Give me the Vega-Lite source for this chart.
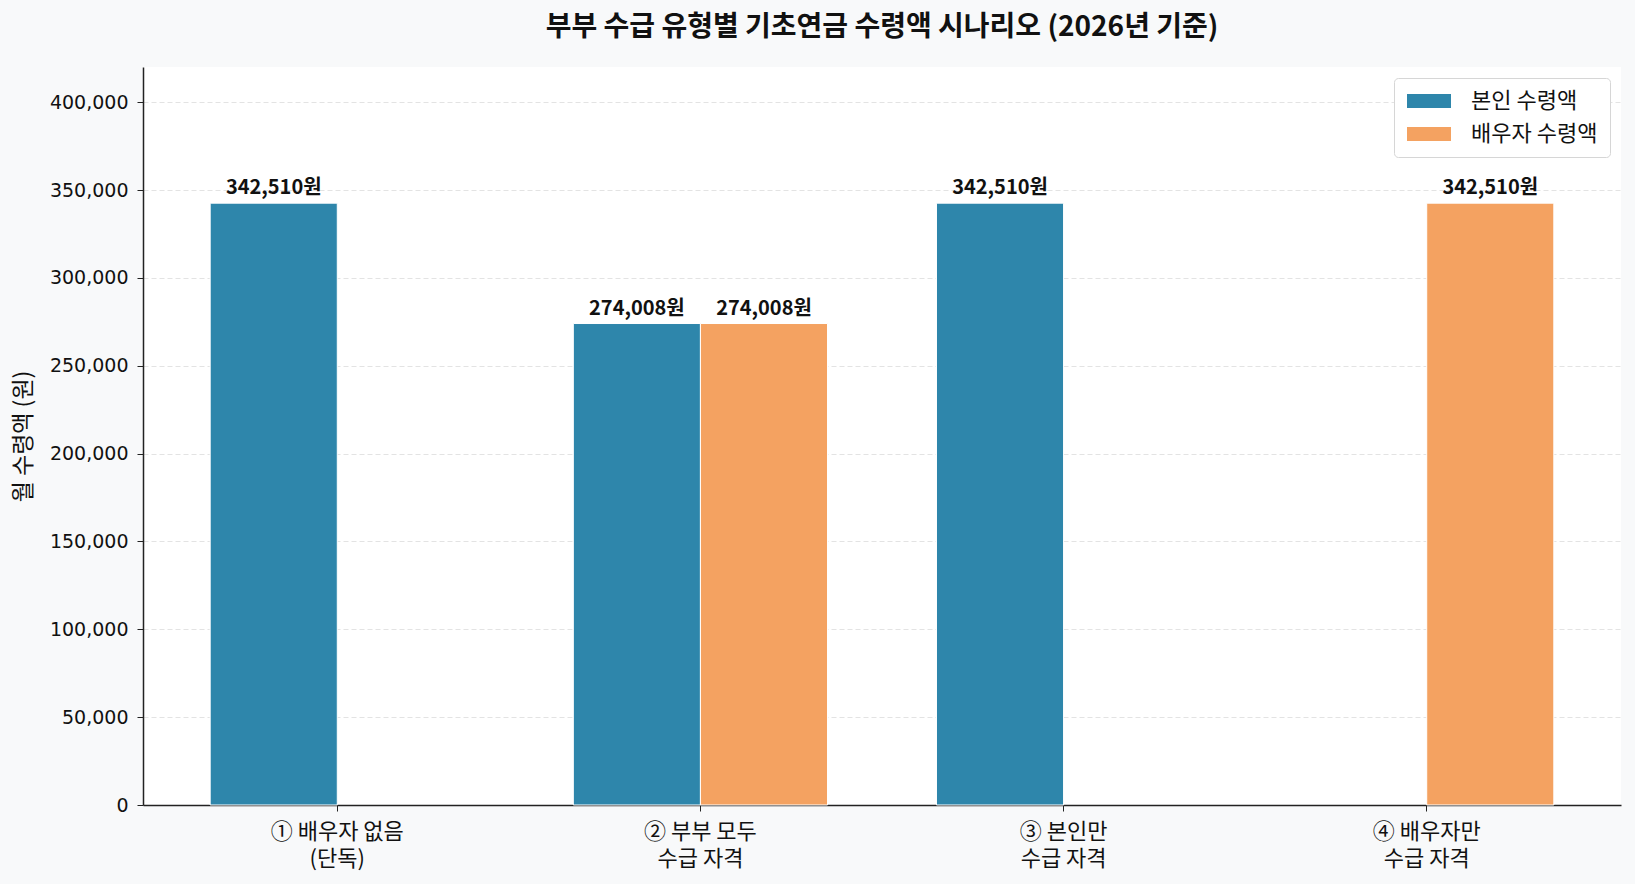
{
  "$schema": "https://vega.github.io/schema/vega-lite/v6.json",
  "width": 1478,
  "height": 738,
  "autosize": {"type": "none"},
  "padding": {"left": 143, "right": 14, "top": 67, "bottom": 79},
  "background": "#f8f9fa",
  "title": {
    "text": "부부 수급 유형별 기초연금 수령액 시나리오 (2026년 기준)",
    "font": "Noto Sans CJK KR",
    "fontSize": 28,
    "fontWeight": "bold",
    "color": "#111111",
    "anchor": "middle",
    "offset": 25
  },
  "data": {
    "values": [
      {"scenario": "① 배우자 없음\n(단독)", "series": "본인 수령액", "value": 342510},
      {"scenario": "② 부부 모두\n수급 자격", "series": "본인 수령액", "value": 274008},
      {"scenario": "② 부부 모두\n수급 자격", "series": "배우자 수령액", "value": 274008},
      {"scenario": "③ 본인만\n수급 자격", "series": "본인 수령액", "value": 342510},
      {"scenario": "④ 배우자만\n수급 자격", "series": "배우자 수령액", "value": 342510}
    ]
  },
  "transform": [
    {"calculate": "format(datum.value, ',.0f') + '원'", "as": "label"}
  ],
  "encoding": {
    "x": {
      "field": "scenario",
      "type": "nominal",
      "sort": null,
      "scale": {"paddingInner": 0.3, "paddingOuter": 0.185},
      "axis": {
        "title": null,
        "labelAngle": 0,
        "labelExpr": "split(datum.label, '\\n')",
        "labelFont": "Noto Sans CJK KR",
        "labelFontSize": 22,
        "labelLineHeight": 27,
        "labelColor": "#111111",
        "labelPadding": 10,
        "tickSize": 6,
        "tickColor": "#222222",
        "domainColor": "#222222",
        "domainWidth": 1.5,
        "grid": false
      }
    },
    "xOffset": {"field": "series", "type": "nominal", "sort": ["본인 수령액", "배우자 수령액"]},
    "y": {
      "field": "value",
      "type": "quantitative",
      "scale": {"domain": [0, 420000], "nice": false},
      "axis": {
        "title": "월 수령액 (원)",
        "titleFont": "Noto Sans CJK KR",
        "titleFontSize": 23,
        "titleFontWeight": "normal",
        "titleColor": "#111111",
        "titleX": -120,
        "titleY": 369,
        "titleAngle": -90,
        "titleAlign": "center",
        "titleBaseline": "middle",
        "values": [0, 50000, 100000, 150000, 200000, 250000, 300000, 350000, 400000],
        "format": ",.0f",
        "labelFont": "DejaVu Sans",
        "labelFontSize": 19,
        "labelColor": "#111111",
        "labelPadding": 9,
        "tickSize": 6,
        "tickColor": "#222222",
        "domainColor": "#222222",
        "domainWidth": 1.5,
        "grid": true,
        "gridColor": "#e3e3e3",
        "gridDash": [5, 3],
        "gridWidth": 1
      }
    }
  },
  "layer": [
    {
      "mark": {"type": "bar", "stroke": "white", "strokeWidth": 1},
      "encoding": {
        "color": {
          "field": "series",
          "type": "nominal",
          "sort": ["본인 수령액", "배우자 수령액"],
          "scale": {"domain": ["본인 수령액", "배우자 수령액"], "range": ["#2e86ab", "#f4a261"]},
          "legend": {
            "title": null,
            "orient": "top-right",
            "offset": 11,
            "symbolType": "M-1,-0.7L3.4,-0.7L3.4,0.7L-1,0.7Z",
            "symbolSize": 400,
            "symbolStrokeWidth": 0,
            "symbolOpacity": 1,
            "labelFont": "Noto Sans CJK KR",
            "labelFontSize": 22,
            "labelColor": "#111111",
            "labelOffset": 43,
            "rowPadding": 11,
            "padding": 12,
            "fillColor": "white",
            "strokeColor": "#d6d6d6",
            "cornerRadius": 4
          }
        }
      }
    },
    {
      "mark": {
        "type": "text",
        "font": "Noto Sans CJK KR",
        "fontSize": 20,
        "fontWeight": "bold",
        "color": "#111111",
        "baseline": "alphabetic",
        "dy": -9
      },
      "encoding": {
        "text": {"field": "label"}
      }
    }
  ],
  "config": {
    "view": {"fill": "white", "stroke": null}
  }
}
